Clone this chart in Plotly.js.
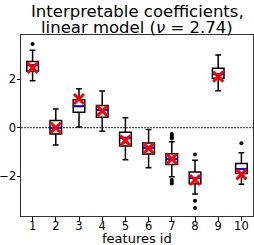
<!DOCTYPE html>
<html><head><meta charset="utf-8">
<script src="https://cdn.plot.ly/plotly-3.0.1.min.js"></script>
<style>html,body{margin:0;padding:0;background:#fff}</style>
</head><body><div id="chart" style="width:254px;height:245px"></div>
<script>
const features = [1,2,3,4,5,6,7,8,9,10];
const lowerWhisker = [1.93,-0.71,0.03,-0.15,-1.32,-1.65,-2.02,-2.73,1.52,-2.33];
const q1 = [2.32,-0.26,0.63,0.43,-0.75,-1.08,-1.51,-2.30,2.03,-1.88];
const medians = [2.57,0.0,0.88,0.73,-0.41,-0.82,-1.28,-2.07,2.20,-1.70];
const q3 = [2.72,0.30,1.15,0.91,-0.19,-0.63,-1.07,-1.82,2.44,-1.47];
const upperWhisker = [3.18,0.77,1.60,1.51,0.41,-0.07,-0.58,-1.34,2.99,-1.03];
const trueCoef = [2.46,0.0,1.18,0.69,-0.53,-0.85,-1.28,-2.15,2.10,-1.92];
const outlierFeature = [1,7,7,7,7,7,7,7,8,8,8,10];
const outlierValue = [3.44,-0.26,-0.33,-0.40,-0.44,-2.15,-2.22,-2.29,-1.10,-3.00,-3.30,-0.64];
const tickVals = [-2,0,2];
const titleLines = ['Interpretable coefficients,', 'linear model (<i>ν</i> = 2.74)'];
const xTitle = 'features id';

const BOXW = 0.5;
const medX = [], medY = [];
features.forEach((f,i)=>{ medX.push(f-BOXW/2, f+BOXW/2, null); medY.push(medians[i], medians[i], null); });

const font = 'DejaVu Sans, sans-serif';
const traces = [
  {type:'box', x:features, q1:q1, median:medians, q3:q3, lowerfence:lowerWhisker, upperfence:upperWhisker,
   boxpoints:false, width:BOXW, whiskerwidth:0.5, fillcolor:'white', line:{color:'black', width:1.5},
   hoverinfo:'skip', showlegend:false},
  {type:'scatter', mode:'lines', x:medX, y:medY, line:{color:'blue', width:2}, showlegend:false, hoverinfo:'skip'},
  {type:'scatter', mode:'markers', x:outlierFeature, y:outlierValue,
   marker:{symbol:'circle', size:4, color:'black'}, showlegend:false, hoverinfo:'skip'},
  {type:'scatter', mode:'markers', x:features, y:trueCoef,
   marker:{symbol:'x-thin', size:10, line:{color:'red', width:3}, color:'red'}, showlegend:false, hoverinfo:'skip'}
];
const axisCommon = {ticks:'outside', ticklen:3.5, tickwidth:1, tickcolor:'black', showline:true, mirror:true,
  linecolor:'#333', linewidth:1, showgrid:false, zeroline:false, tickfont:{family:font, size:11.5, color:'black'}};
const layout = {
  width:254, height:245, margin:{l:21, r:1, t:35, b:29}, paper_bgcolor:'white', plot_bgcolor:'white',
  boxmode:'overlay',
  xaxis:Object.assign({}, axisCommon, {range:[0.5,10.5], tickvals:features, ticklabelstandoff:-4}),
  yaxis:Object.assign({}, axisCommon, {range:[-3.63,3.81], tickvals:tickVals, ticklabelstandoff:-2}),
  annotations:[
    {text:titleLines[0], xref:'paper', yref:'paper', x:0.5, y:1, xanchor:'center', yanchor:'middle', yshift:24,
     showarrow:false, font:{family:font, size:16.5, color:'black'}},
    {text:titleLines[1], xref:'paper', yref:'paper', x:0.5, y:1, xanchor:'center', yanchor:'middle', yshift:8,
     showarrow:false, font:{family:font, size:16.5, color:'black'}},
    {text:xTitle, xref:'paper', yref:'paper', x:0.5, y:0, xanchor:'center', yanchor:'top', yshift:-13,
     showarrow:false, font:{family:font, size:13, color:'black'}}
  ],
  shapes:[{type:'line', xref:'paper', x0:0, x1:1, yref:'y', y0:0, y1:0, line:{color:'#333', width:1, dash:'2px,1px'}, layer:'below'}]
};
Plotly.newPlot('chart', traces, layout, {displayModeBar:false, staticPlot:true});
</script></body></html>
